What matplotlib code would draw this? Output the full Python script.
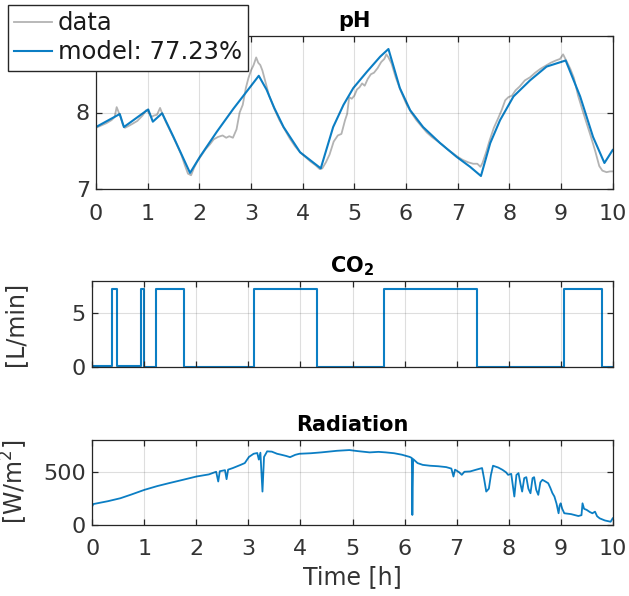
import matplotlib
matplotlib.use("Agg")
import matplotlib.pyplot as plt
import numpy as np

# ---------------- data ----------------
ph_model_t = [0.00, 0.46, 0.54, 1.01, 1.10, 1.28, 1.50, 1.82, 2.01, 2.34, 2.66, 2.98, 3.15,
              3.30, 3.45, 3.63, 3.95, 4.14, 4.35, 4.59, 4.79, 4.98, 5.24, 5.50, 5.66,
              5.88, 6.08, 6.33, 6.66, 6.98, 7.24, 7.45, 7.63, 7.82, 8.08, 8.40, 8.72, 9.09,
              9.37, 9.62, 9.84, 10.00]
ph_model_v = [7.81, 7.98, 7.81, 8.04, 7.88, 7.99, 7.68, 7.21, 7.42, 7.75, 8.05, 8.33, 8.48,
              8.30, 8.06, 7.81, 7.48, 7.38, 7.27, 7.81, 8.10, 8.32, 8.53, 8.73, 8.83,
              8.32, 8.03, 7.81, 7.60, 7.42, 7.29, 7.17, 7.60, 7.90, 8.21, 8.42, 8.60, 8.68,
              8.21, 7.68, 7.34, 7.51]

ph_data_t = [0.00, 0.10, 0.20, 0.30, 0.36, 0.40, 0.43, 0.47, 0.52, 0.56, 0.62, 0.70, 0.80, 0.90,
             0.97, 1.02, 1.07, 1.12, 1.18, 1.24, 1.28, 1.35, 1.45, 1.55, 1.65, 1.72, 1.78, 1.84,
             1.90, 1.96, 2.04, 2.12, 2.20, 2.28, 2.36, 2.45, 2.52, 2.58, 2.65, 2.72, 2.78, 2.84,
             2.90, 2.95, 3.00, 3.05, 3.10, 3.14, 3.18, 3.22, 3.28, 3.35, 3.45, 3.55, 3.65, 3.75,
             3.85, 3.95, 4.05, 4.15, 4.25, 4.33, 4.38, 4.45, 4.52, 4.60, 4.68, 4.75, 4.82, 4.86,
             4.90, 4.95, 5.00, 5.05, 5.10, 5.15, 5.20, 5.26, 5.32, 5.38, 5.45, 5.52, 5.58, 5.62,
             5.66, 5.72, 5.80, 5.90, 6.00, 6.10, 6.20, 6.30, 6.40, 6.50, 6.60, 6.70, 6.80, 6.90,
             7.00, 7.10, 7.20, 7.30, 7.38, 7.44, 7.48, 7.55, 7.62, 7.70, 7.78, 7.85, 7.92, 7.98,
             8.05, 8.12, 8.20, 8.30, 8.40, 8.50, 8.60, 8.70, 8.80, 8.90, 8.98, 9.04, 9.10, 9.18,
             9.25, 9.33, 9.42, 9.50, 9.58, 9.66, 9.74, 9.80, 9.88, 9.95, 10.00]
ph_data_v = [7.80, 7.83, 7.86, 7.90, 7.94, 8.07, 8.02, 7.95, 7.84, 7.80, 7.82, 7.85, 7.89, 7.96,
             8.03, 8.00, 7.94, 7.96, 7.97, 8.06, 7.99, 7.88, 7.74, 7.60, 7.45, 7.31, 7.20, 7.18,
             7.28, 7.36, 7.44, 7.52, 7.58, 7.65, 7.68, 7.70, 7.67, 7.69, 7.67, 7.78, 8.00, 8.10,
             8.32, 8.45, 8.55, 8.62, 8.72, 8.65, 8.62, 8.55, 8.40, 8.22, 8.05, 7.90, 7.78, 7.66,
             7.56, 7.48, 7.42, 7.36, 7.31, 7.26, 7.27, 7.35, 7.45, 7.62, 7.70, 7.72, 7.90, 7.98,
             8.20, 8.18, 8.22, 8.30, 8.33, 8.38, 8.35, 8.44, 8.50, 8.52, 8.58, 8.66, 8.70, 8.76,
             8.72, 8.64, 8.46, 8.28, 8.12, 8.00, 7.90, 7.82, 7.74, 7.68, 7.63, 7.58, 7.52, 7.47,
             7.42, 7.38, 7.35, 7.33, 7.33, 7.29, 7.34, 7.48, 7.64, 7.80, 7.92, 8.03, 8.16, 8.20,
             8.22, 8.29, 8.34, 8.42, 8.46, 8.52, 8.57, 8.61, 8.65, 8.68, 8.70, 8.76, 8.68, 8.57,
             8.45, 8.22, 8.02, 7.85, 7.68, 7.50, 7.30, 7.24, 7.22, 7.23, 7.23]

co2_on_start = [0.385, 0.94, 1.22, 3.10, 5.60, 9.06]
co2_on_end = [0.48, 1.00, 1.77, 4.31, 7.40, 9.79]
co2_on_level = 7.3
co2_off_level = [0.12, 0.08, 0.0, 0.0, 0.0, 0.0, 0.0]

rad_t = [0.00, 0.02, 0.30, 0.54, 0.75, 1.00, 1.25, 1.47, 1.75, 2.00, 2.24, 2.38, 2.42, 2.45,
         2.55, 2.58, 2.61, 2.70, 2.85, 2.93, 3.01, 3.10, 3.17, 3.20, 3.23, 3.27, 3.30, 3.36,
         3.45, 3.55, 3.63, 3.72, 3.80, 3.90, 3.98, 4.20, 4.40, 4.70, 4.94, 5.10, 5.33, 5.50,
         5.64, 5.80, 5.95, 6.10, 6.14, 6.15, 6.165, 6.25, 6.35, 6.49, 6.65, 6.80, 6.90, 6.94,
         6.97, 7.05, 7.10, 7.15, 7.26, 7.38, 7.49, 7.53, 7.57, 7.62, 7.66, 7.70, 7.80, 7.88,
         7.95, 7.99, 8.05, 8.11, 8.15, 8.19, 8.23, 8.26, 8.30, 8.34, 8.38, 8.42, 8.46, 8.49,
         8.53, 8.57, 8.61, 8.65, 8.70, 8.76, 8.80, 8.84, 8.88, 8.92, 8.96, 8.98, 9.00, 9.03,
         9.07, 9.20, 9.34, 9.40, 9.42, 9.45, 9.50, 9.56, 9.61, 9.66, 9.70, 9.75, 9.85, 9.96,
         10.00]
rad_v = [175, 195, 222, 250, 285, 329, 365, 392, 425, 455, 475, 500, 408, 505,
         515, 430, 520, 535, 565, 582, 640, 670, 677, 615, 680, 313, 640, 693,
         690, 670, 661, 650, 638, 660, 670, 675, 683, 698, 705, 695, 683, 688,
         683, 675, 661, 640, 630, 92, 620, 582, 565, 557, 552, 544, 530, 455,
         520, 495, 471, 500, 503, 520, 535, 430, 313, 340, 470, 557, 540, 519,
         495, 471, 480, 266, 470, 487, 380, 313, 440, 449, 340, 297, 440, 449,
         330, 282, 400, 424, 410, 392, 350, 300, 266, 200, 108, 180, 202, 150,
         108, 100, 82, 90, 202, 150, 140, 120, 108, 123, 80, 60, 40, 28,
         60]

x_ticks = [0, 1, 2, 3, 4, 5, 6, 7, 8, 9, 10]

# ---------------- style ----------------
W, H = 629, 596
BLUE = '#0b7ec4'
GRAY = '#b3b3b3'
AX = '#262626'
TXT = '#333333'
FS = 16
FL = 17
plt.rcParams['font.family'] = ['DejaVu Sans']

fig = plt.figure(figsize=(W / 100, H / 100), dpi=100)


def px_axes(l, r, t, b):
    return fig.add_axes([l / W, 1 - b / H, (r - l) / W, (b - t) / H])


def style(ax):
    for s in ax.spines.values():
        s.set_color(AX)
        s.set_linewidth(0.9)
    ax.tick_params(direction='in', length=4, width=0.9, colors=AX, labelsize=FS,
                   top=True, right=True, labelcolor=TXT)
    ax.tick_params(axis='x', pad=10.5)
    ax.tick_params(axis='y', pad=4.5)
    ax.grid(True, color=AX, alpha=0.15, linewidth=0.8)
    ax.set_axisbelow(False)
    ax.set_xlim(0, 10)
    ax.set_xticks(x_ticks)


ax1 = px_axes(96, 612.7, 36, 189)
ax2 = px_axes(92.3, 612.7, 281, 367)
ax3 = px_axes(92.3, 612.7, 440, 524.7)

# pH
style(ax1)
l1, = ax1.plot(ph_data_t, ph_data_v, color=GRAY, lw=1.3, label='data')
l2, = ax1.plot(ph_model_t, ph_model_v, color=BLUE, lw=1.5, label='model: 77.23%')
ax1.set_ylim(7, 9)
ax1.set_yticks([7, 8, 9])
ax1.set_yticklabels(['7', '8', ''])
ax1.set_title('pH', fontsize=15, fontweight='bold', pad=6.5)
leg = ax1.legend(handles=[l1, l2], loc='upper left', bbox_to_anchor=(8 / W, 1 - 5 / H),
                 bbox_transform=fig.transFigure, borderaxespad=0, fancybox=False,
                 framealpha=1, edgecolor=AX, fontsize=17.5, handlelength=1.55,
                 handletextpad=0.25, borderpad=0.25, labelspacing=0.22)
leg.get_frame().set_linewidth(1.0)
for t in leg.get_texts():
    t.set_color('#1a1a1a')

# CO2
style(ax2)
co2_t = [0.0]
co2_v = [co2_off_level[0]]
for i, (s, e) in enumerate(zip(co2_on_start, co2_on_end)):
    co2_t += [s, s, e, e]
    co2_v += [co2_off_level[i], co2_on_level, co2_on_level, co2_off_level[i + 1]]
co2_t.append(10.0)
co2_v.append(co2_off_level[-1])
ax2.plot(co2_t, co2_v, color=BLUE, lw=1.5)
ax2.set_ylim(0, 8)
ax2.set_yticks([0, 5])
ax2.set_xticklabels([])
ax2.set_title('CO$_\\mathbf{2}$', fontsize=15, fontweight='bold', pad=6.5)
ax2.set_ylabel('[L/min]', fontsize=FL, color=TXT)
ax2.yaxis.set_label_coords(-0.125, 0.5)

# Radiation
style(ax3)
ax3.plot(rad_t, rad_v, color=BLUE, lw=1.3)
ax3.set_ylim(0, 800)
ax3.set_yticks([0, 500])
ax3.set_title('Radiation', fontsize=15, fontweight='bold', pad=6.5)
ax3.set_ylabel('[W/m$^2$]', fontsize=FL, color=TXT)
ax3.yaxis.set_label_coords(-0.12, 0.5)
ax3.set_xlabel('Time [h]', fontsize=FL, color=TXT, labelpad=4)

fig.savefig('out.png', dpi=100)
